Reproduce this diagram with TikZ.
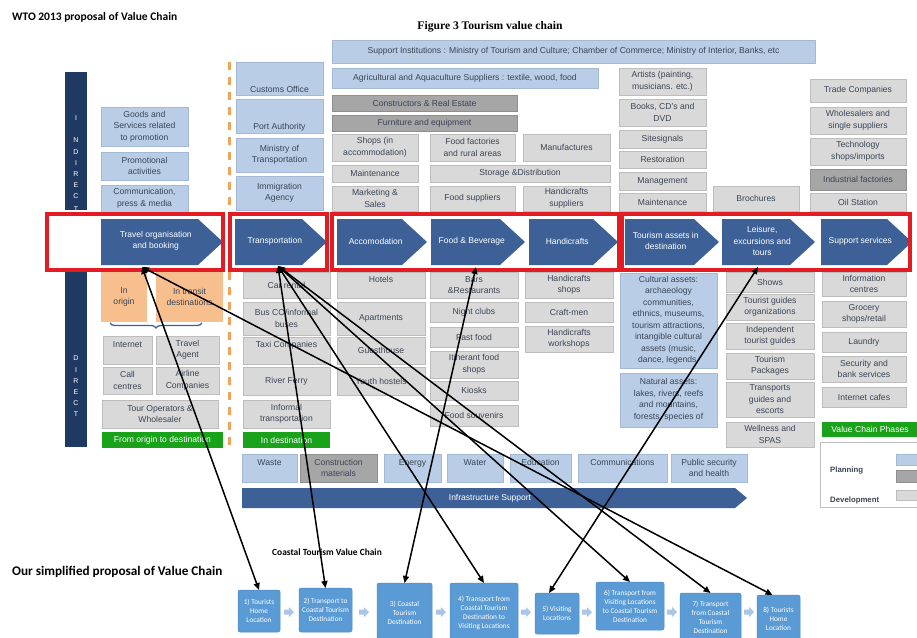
\documentclass[tikz,border=0pt]{standalone}
\usepackage{fontspec}
\setmainfont{Liberation Sans}
\newfontfamily\calib{Carlito}
\newfontfamily\tms{Liberation Serif}
\usetikzlibrary{arrows.meta,decorations.pathreplacing}
\definecolor{lbF}{HTML}{B9CDE6}
\definecolor{lbD}{HTML}{A3B9D6}
\definecolor{lgF}{HTML}{D9D9D9}
\definecolor{lgD}{HTML}{BDBDBD}
\definecolor{dgF}{HTML}{A6A6A6}
\definecolor{dgD}{HTML}{8F8F8F}
\definecolor{txtC}{HTML}{3A4556}
\definecolor{chevC}{HTML}{3D6197}
\definecolor{navyC}{HTML}{1F3A62}
\definecolor{orC}{HTML}{F8BF8E}
\definecolor{grC}{HTML}{1AA31A}
\definecolor{redC}{HTML}{E31B23}
\definecolor{dashC}{HTML}{F2A35A}
\definecolor{bbF}{HTML}{5B9BD5}
\definecolor{bbD}{HTML}{4F8CC6}
\definecolor{saC}{HTML}{A9C6E8}
\tikzset{
  base/.style={inner sep=0pt,outer sep=0pt,align=center,text=txtC,font=\fontsize{8.6}{11.5}\selectfont},
  lb/.style={base,fill=lbF,draw=lbD,line width=0.6pt},
  lg/.style={base,fill=lgF,draw=lgD,line width=0.6pt},
  dg/.style={base,fill=dgF,draw=dgD,line width=0.6pt},
  orb/.style={base,fill=orC},
  grb/.style={base,fill=grC,text=white},
  chevT/.style={inner sep=0pt,align=center,text=white,font=\fontsize{8.5}{11.5}\selectfont},
  frame/.style={draw=redC,line width=3.5pt},
  bb/.style={inner sep=0pt,outer sep=0pt,fill=bbF,draw=bbD,line width=0.5pt,rounded corners=2pt,text=white,align=center,font=\calib\fontsize{7.3}{9}\selectfont},
  conn/.style={line width=1.5pt,black,{Triangle[length=7pt,width=6pt]}-{Triangle[length=7pt,width=6pt]}},
  barL/.style={text=white,font=\fontsize{7}{8}\selectfont,inner sep=0pt}
}
\newcommand\B[7]{\node[#1,anchor=north west,minimum width={(#5)-(#3)},minimum height={(#6)-(#4)}] (#2) at (#3,#4) {#7};}
\newcommand\Chev[4]{\fill[chevC] (#2,219) -- ({#3-25},219) -- (#3,242) -- ({#3-25},265) -- (#2,265) -- cycle;
  \node[chevT] (#1) at ({(#2+#3-12.5)/2},241) {#4};}
\newcommand\SmallArrow[2]{\fill[saC,shift={(#1,#2)}] (-5,-2.5) -- (0,-2.5) -- (0,-5) -- (5,0) -- (0,5) -- (0,2.5) -- (-5,2.5) -- cycle;}
\begin{document}
\begin{tikzpicture}[x=1pt,y=-1pt]
\useasboundingbox (0,0) rectangle (917,637);
\fill[white] (0,0) rectangle (917,637);
% titles
\node[anchor=west,inner sep=0pt,font=\calib\bfseries\fontsize{11.5}{13}\selectfont] (t1) at (12,17) {WTO 2013 proposal of Value Chain};
\node[inner sep=0pt,font=\tms\bfseries\fontsize{11.6}{13}\selectfont] (t2) at (490,27) {Figure 3 Tourism value chain};
% side bars
\fill[navyC] (65,72) rectangle (87,210);
\fill[navyC] (65,270) rectangle (87,447);
\begin{scope}
\clip (65,72) rectangle (87,210);
\foreach \l/\yy in {I/118,N/140,D/152,I/163,R/174,E/185,C/196,T/209}{\node[barL] at (76,\yy) {\l};}
\end{scope}
\foreach \l/\yy in {D/358,I/370,R/381,E/392,C/403,T/414}{\node[barL] at (76,\yy) {\l};}
% orange dashed divider
\draw[dashC,line width=3pt,dash pattern=on 8pt off 7pt] (229,62) -- (229,450);
% top: support
\B{lb}{sup}{332}{40}{815}{63}{Support Institutions : Ministry of Tourism and Culture; Chamber of Commerce; Ministry of Interior, Banks, etc}
\B{lb}{agr}{332}{68}{598}{88}{Agricultural and Aquaculture Suppliers : textile, wood, food}
\B{dg}{cons}{332}{95}{517}{111}{Constructors \& Real Estate}
\B{dg}{furn}{332}{115}{517}{131}{Furniture and equipment}
\B{lg}{shops}{332}{134}{418}{161}{Shops (in\\accommodation)}
\B{lg}{ffac}{430}{134}{515}{161}{Food factories\\and rural areas}
\B{lg}{manu}{523}{134}{610}{161}{Manufactures}
\B{lg}{maintA}{332}{165}{418}{182}{Maintenance}
\B{lg}{stor}{430}{165}{610}{182}{Storage \&Distribution}
\B{lg}{mark}{332}{186}{418}{211}{Marketing \&\\Sales}
\B{lg}{fsup}{430}{186}{515}{211}{Food suppliers}
\B{lg}{hsup}{523}{186}{610}{211}{Handicrafts\\suppliers}
\B{lg}{art}{619}{68}{706}{95}{Artists (painting,\\musicians. etc.)}
\B{lg}{book}{619}{99}{706}{126}{Books, CD's and\\DVD}
\B{lg}{site}{619}{130}{706}{148}{Sitesignals}
\B{lg}{rest}{619}{151}{706}{168}{Restoration}
\B{lg}{mgmt}{619}{172}{706}{190}{Management}
\B{lg}{maintB}{619}{193}{706}{211}{Maintenance}
\B{lg}{broch}{713}{186}{799}{211}{Brochures}
\B{lg}{trade}{810}{79}{906}{102}{Trade Companies}
\B{lg}{whol}{810}{107}{906}{134}{Wholesalers and\\single suppliers}
\B{lg}{tech}{810}{138}{906}{165}{Technology\\shops/imports}
\B{dg}{ind}{810}{169}{906}{190}{Industrial factories}
\B{lg}{oil}{810}{193}{906}{211}{Oil Station}
% left indirect
\B{lb}{goods}{101}{107}{188}{146}{Goods and\\Services related\\to promotion}
\B{lb}{promo}{101}{152}{188}{180}{Promotional\\activities}
\B{lb}{comm}{101}{185}{188}{212}{Communication,\\press \& media}
\B{lb}{cust}{236}{62}{323}{95}{}
\node[base] (custT) at (279.5,89) {Customs Office};
\B{lb}{port}{236}{99}{323}{133}{}
\node[base] (portT) at (279.5,127) {Port Authority};
\B{lb}{mint}{236}{138}{323}{172}{Ministry of\\Transportation}
\B{lb}{immi}{236}{176}{323}{210}{Immigration\\Agency}
% chevrons
\Chev{travel}{101}{223}{Travel organisation\\and booking}
\Chev{transp}{235}{327}{Transportation}
\Chev{accom}{337}{427}{Accomodation}
\Chev{food}{431}{525}{Food \& Beverage}
\Chev{handi}{529}{618}{Handicrafts}
\Chev{tass}{625}{719}{Tourism assets in\\destination}
\Chev{leis}{722}{815}{Leisure,\\excursions and\\tours}
\Chev{supps}{821}{912}{Support services}
% red frames
\draw[frame] (47,214) rectangle (223,270);
\draw[frame] (230,214) rectangle (327,270);
\draw[frame] (332,214) rectangle (619,270);
\draw[frame] (622,214) rectangle (910,270);
% direct: travel column
\B{orb}{orig}{101}{272}{147}{322}{In\\origin}
\B{orb}{transit}{156}{272}{223}{322}{In transit\\destinations}
\draw[decorate,decoration={brace,mirror,amplitude=5pt},chevC,line width=1.3pt] (110,323) -- (202,323);
\B{lg}{inet}{103}{336}{152}{364}{Internet\\~}
\B{lg}{tagent}{156}{336}{219}{364}{Travel\\Agent}
\B{lg}{call}{103}{367}{152}{394}{Call\\centres}
\B{lg}{airl}{156}{367}{219}{394}{Airline\\Companies}
\B{lg}{tour}{102}{400}{218}{428}{Tour Operators \&\\Wholesaler}
\B{grb}{gA}{102}{432}{223}{448}{From origin to destination}
% transport column
\B{lg}{car}{243}{272}{330}{298}{Car rental}
\B{lg}{bus}{243}{302}{330}{335}{Bus CO/informal\\buses}
\B{lg}{taxi}{243}{337}{330}{364}{Taxi Companies\\~}
\B{lg}{river}{243}{367}{330}{395}{River Ferry}
\B{lg}{inf}{243}{400}{330}{428}{Informal\\transportation}
\B{grb}{gB}{243}{432}{330}{448}{In destination}
% accommodation column
\B{lg}{hotel}{337}{272}{425}{298}{Hotels\\~}
\B{lg}{apt}{337}{302}{425}{335}{Apartments}
\B{lg}{guest}{337}{337}{425}{364}{Guesthouse}
\B{lg}{youth}{337}{367}{425}{395}{Youth hostels}
% food column
\B{lg}{bars}{430}{272}{518}{298}{Bars\\\&Restaurants}
\B{lg}{night}{430}{302}{518}{322}{Night clubs}
\B{lg}{fast}{430}{327}{518}{347}{Fast food}
\B{lg}{itin}{430}{351}{518}{378}{Itinerant food\\shops}
\B{lg}{kiosk}{430}{381}{518}{400}{Kiosks}
\B{lg}{fsouv}{430}{405}{518}{426}{Food souvenirs}
% handicrafts column
\B{lg}{hshop}{525}{272}{613}{298}{Handicrafts\\shops}
\B{lg}{craft}{525}{302}{613}{322}{Craft-men}
\B{lg}{hwork}{525}{326}{613}{352}{Handicrafts\\workshops}
% tourism assets column
\B{lb}{cult}{620}{273}{717}{368}{Cultural assets:\\archaeology\\communities,\\ethnics, museums,\\tourism attractions,\\intangible cultural\\assets (music,\\dance, legends,}
\B{lb}{nat}{620}{373}{717}{427}{Natural assets:\\lakes, rivers, reefs\\and mountains,\\forests, species of}
% leisure column
\B{lg}{shows}{726}{272}{814}{292}{Shows}
\B{lg}{tgo}{726}{294}{814}{320}{Tourist guides\\organizations}
\B{lg}{itg}{726}{323}{814}{349}{Independent\\tourist guides}
\B{lg}{tpack}{726}{353}{814}{379}{Tourism\\Packages}
\B{lg}{tge}{726}{382}{814}{417}{Transports\\guides and\\escorts}
\B{lg}{well}{726}{422}{814}{447}{Wellness and\\SPAS}
% support column
\B{lg}{info}{822}{272}{906}{296}{Information\\centres}
\B{lg}{groc}{822}{301}{906}{327}{Grocery\\shops/retail}
\B{lg}{laun}{822}{332}{906}{352}{Laundry}
\B{lg}{sec}{822}{356}{906}{382}{Security and\\bank services}
\B{lg}{icafe}{822}{387}{906}{407}{Internet cafes}
\B{grb}{gC}{822}{422}{918}{437}{Value Chain Phases}
% legend
\draw[lgD,line width=1pt,fill=white] (820,442) rectangle (930,507);
\node[anchor=west,inner sep=0pt,font=\bfseries\fontsize{7.8}{9}\selectfont,text=txtC] (plan) at (830,470) {Planning};
\node[anchor=west,inner sep=0pt,font=\bfseries\fontsize{7.8}{9}\selectfont,text=txtC] (dev) at (830,500) {Development};
\fill[lbF,draw=lbD] (896,454) rectangle (930,465);
\fill[dgF,draw=dgD] (896,470) rectangle (930,482);
\fill[lgF,draw=lgD] (896,490) rectangle (930,500);
% infrastructure
\B{lb}{waste}{242}{454}{297}{482}{Waste\\~}
\B{dg}{cmat}{300}{454}{377}{482}{Construction\\materials}
\B{lb}{energy}{384}{454}{441}{482}{Energy\\~}
\B{lb}{water}{447}{454}{503}{482}{Water\\~}
\B{lb}{edu}{510}{454}{571}{482}{Education\\~}
\B{lb}{commu}{578}{454}{667}{482}{Communications\\~}
\B{lb}{pub}{671}{454}{747}{482}{Public security\\and health}
\fill[chevC] (242,488) -- (735,488) -- (747,498) -- (735,508) -- (242,508) -- cycle;
\node[chevT] (infra) at (490,498) {Infrastructure Support};
% bottom section
\node[anchor=west,inner sep=0pt,font=\calib\bfseries\fontsize{13.2}{15}\selectfont] (t3) at (12,572) {Our simplified proposal of Value Chain};
\node[inner sep=0pt,font=\calib\bfseries\fontsize{9.4}{11}\selectfont] (t4) at (327,552) {Coastal Tourism Value Chain};
\B{bb}{b1}{238}{590}{280}{632}{1) Tourists\\Home\\Location}
\B{bb}{b2}{299}{588}{352}{632}{2) Transport to\\Coastal Tourism\\Destination}
\B{bb}{b3}{377}{583}{432}{642}{3) Coastal\\Tourism\\Destination}
\B{bb}{b4}{450}{583}{518}{642}{4) Transport from\\Coastal Tourism\\Destination to\\Visiting Locations}
\B{bb}{b5}{535}{593}{579}{634}{5) Visiting\\Locations}
\B{bb}{b6}{596}{582}{664}{630}{6) Transport from\\Visiting Locations\\to Coastal Tourism\\Destination}
\B{bb}{b7}{680}{593}{741}{642}{7) Transport\\from Coastal\\Tourism\\Destination}
\B{bb}{b8}{757}{595}{800}{642}{8) Tourists\\Home\\Location}
\SmallArrow{289}{612}
\SmallArrow{364}{612}
\SmallArrow{441}{612}
\SmallArrow{526}{612}
\SmallArrow{587}{612}
\SmallArrow{672}{612}
\SmallArrow{749}{612}
% connectors
\coordinate (travB) at (142,267);
\coordinate (tranB) at (278,266);
\coordinate (foodB) at (476,267);
\coordinate (leisB) at (758,267);
\draw[conn] (travB) -- (b1.north);
\draw[conn] (travB) -- ([xshift=-6pt]b8.north);
\draw[conn] (tranB) -- (b2.north);
\draw[conn] (tranB) -- (b4.north);
\draw[conn] (tranB) -- (b6.north);
\draw[conn] (tranB) -- (b7.north);
\draw[conn] (foodB) -- (b3.north);
\draw[conn] (leisB) -- ([xshift=-8pt]b5.north);
\end{tikzpicture}
\end{document}
